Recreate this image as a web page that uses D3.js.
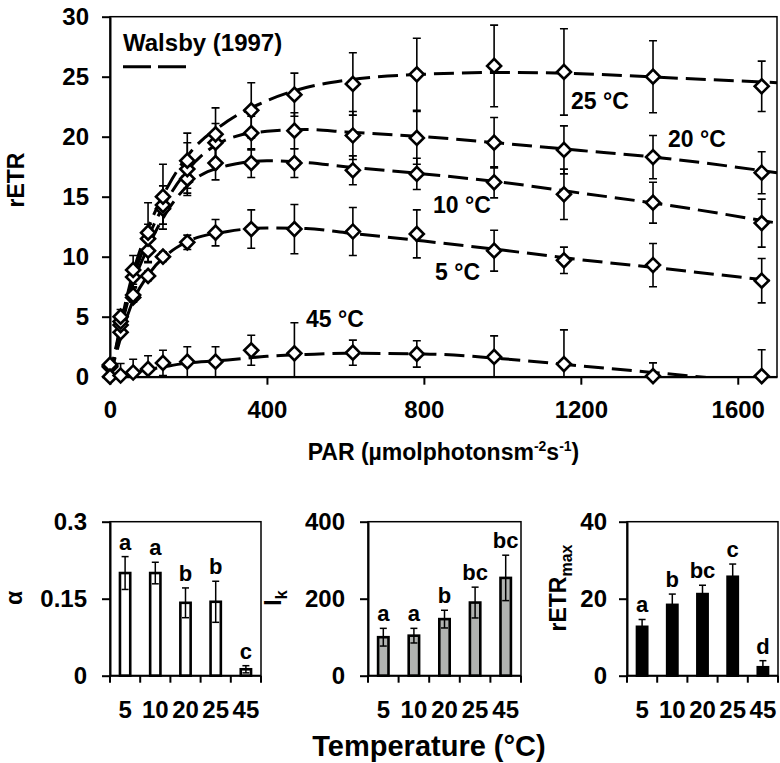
<!DOCTYPE html>
<html>
<head>
<meta charset="utf-8">
<script src="https://cdn.jsdelivr.net/npm/d3@7"></script>
<style>
  body { margin: 0; background: #fff; }
  text { font-family: "Liberation Sans", Arial, sans-serif; font-weight: bold; fill: #000; }
</style>
</head>
<body>
<div id="chart"></div>
<script>
// PAR levels of the light curves
var par = [0, 27, 59, 97, 135, 197, 269, 360, 470, 619, 782, 979, 1157, 1384, 1661];

// measured rETR (mean) and sd per temperature
var etr5  = [0.9, 3.7, 6.6, 8.4, 10.0, 11.2, 12.0, 12.3, 12.3, 12.1, 11.9, 10.5, 9.7, 9.3, 8.0];
var err5  = [0.2, 0.3, 0.4, 0.4, 0.4, 0.6, 1.1, 1.6, 2.05, 2.0, 2.0, 1.7, 1.1, 1.8, 1.85];
var etr10 = [0.8, 4.3, 6.8, 10.5, 14.0, 16.5, 17.8, 17.8, 17.8, 17.2, 16.9, 16.2, 15.2, 14.5, 12.8];
var err10 = [0.3, 0.4, 0.6, 0.9, 1.3, 1.2, 1.4, 1.2, 1.2, 1.2, 1.3, 1.3, 2.1, 1.7, 2.0];
var etr20 = [0.9, 4.6, 8.3, 11.5, 14.3, 17.3, 19.5, 20.3, 20.5, 20.1, 19.9, 19.5, 18.9, 18.3, 17.0];
var err20 = [0.3, 0.5, 0.8, 1.2, 1.6, 2.2, 1.6, 1.4, 1.5, 2.0, 2.2, 2.1, 2.0, 1.8, 1.75];
var etr25 = [1.0, 5.0, 8.9, 12.0, 15.0, 18.0, 20.2, 22.2, 23.5, 24.4, 25.2, 25.9, 25.4, 25.0, 24.2];
var err25 = [0.3, 0.6, 1.2, 2.5, 2.7, 2.3, 2.2, 2.3, 1.8, 2.6, 3.0, 3.4, 3.6, 3.0, 2.1];
var etr45 = [0.0, 0.1, 0.35, 0.65, 1.15, 1.25, 1.25, 2.2, 1.95, 2.0, 1.9, 1.65, 1.05, 0.05, 0.05];
var err45 = [0.3, 1.0, 1.1, 1.1, 1.05, 1.25, 1.25, 1.25, 2.55, 1.05, 1.1, 1.75, 2.85, 1.1, 2.2];

// Walsby (1997) fitted curves
var fitPar = [0, 25, 50, 100, 150, 200, 300, 400, 500, 600, 800, 1000, 1200, 1400, 1700];
var fit5  = [0, 3.0, 5.6, 8.6, 10.3, 11.3, 12.1, 12.4, 12.35, 12.0, 11.3, 10.55, 9.75, 9.05, 7.95];
var fit10 = [0, 3.6, 6.8, 11.0, 14.0, 16.0, 17.6, 18.0, 17.85, 17.5, 16.9, 16.2, 15.3, 14.4, 12.8];
var fit20 = [0, 3.8, 7.2, 11.8, 15.0, 17.3, 19.8, 20.45, 20.6, 20.4, 20.0, 19.45, 18.85, 18.25, 17.0];
var fit25 = [0, 4.0, 7.6, 12.6, 16.0, 18.5, 21.3, 23.0, 24.1, 24.7, 25.2, 25.35, 25.25, 24.95, 24.5];
var fit45 = [0, 0.15, 0.3, 0.6, 0.9, 1.15, 1.4, 1.7, 1.85, 1.95, 1.9, 1.5, 0.9, 0.3, -0.6];

var parTicks = [0, 400, 800, 1200, 1600];
var etrTicks = [0, 5, 10, 15, 20, 25, 30];

// bottom panels
var temps = ["5", "10", "20", "25", "45"];
var alphaVals = [0.20, 0.20, 0.142, 0.144, 0.0125];
var alphaErr  = [0.032, 0.021, 0.029, 0.040, 0.007];
var alphaLetters = ["a", "a", "b", "b", "c"];
var ikVals = [100, 104, 147, 190, 254];
var ikErr  = [23, 19, 23, 40, 59];
var ikLetters = ["a", "a", "b", "bc", "bc"];
var etrMaxVals = [12.7, 18.4, 21.2, 25.7, 2.2];
var etrMaxErr  = [1.9, 2.8, 2.3, 3.3, 1.7];
var etrMaxLetters = ["a", "b", "bc", "c", "d"];

var svg = d3.select("#chart")
  .append("svg")
  .attr("width", 780)
  .attr("height", 763);

// ===================== top chart =====================
var box = { left: 110, right: 777, top: 16.7, bottom: 376.7 };

var xScale = d3.scaleLinear().domain([0, 1700]).range([box.left, box.right]);
var yScale = d3.scaleLinear().domain([0, 30]).range([box.bottom, box.top]);

svg.append("clipPath").attr("id", "plotclip")
  .append("rect")
  .attr("x", box.left).attr("y", box.top)
  .attr("width", box.right - box.left).attr("height", box.bottom - box.top);

// frame
svg.append("rect")
  .attr("x", box.left).attr("y", box.top)
  .attr("width", box.right - box.left).attr("height", box.bottom - box.top)
  .attr("fill", "none").attr("stroke", "#000").attr("stroke-width", 1.5);

var xAxis = svg.append("g")
  .attr("transform", `translate(0, ${box.bottom})`)
  .call(d3.axisBottom(xScale).tickValues(parTicks).tickSize(8).tickSizeOuter(0).tickPadding(16)
    .tickFormat(d3.format("d")));

var yAxis = svg.append("g")
  .attr("transform", `translate(${box.left}, 0)`)
  .call(d3.axisLeft(yScale).tickValues(etrTicks).tickSize(8).tickSizeOuter(0).tickPadding(13));

[xAxis, yAxis].forEach(function(g) {
  g.selectAll("path, line").attr("stroke", "#000").attr("stroke-width", 2);
  g.selectAll("text").style("font-size", "24px").attr("fill", "#000");
});

var series = [
  { obs: etr5, err: err5, fit: fit5 },
  { obs: etr10, err: err10, fit: fit10 },
  { obs: etr20, err: err20, fit: fit20 },
  { obs: etr25, err: err25, fit: fit25 },
  { obs: etr45, err: err45, fit: fit45 }
];

var fitLine = d3.line()
  .x(function(d, i) { return xScale(fitPar[i]); })
  .y(function(d) { return yScale(d); })
  .curve(d3.curveMonotoneX);

var clipped = svg.append("g").attr("clip-path", "url(#plotclip)");

// dashed model curves
clipped.selectAll(".fit")
  .data(series)
  .enter()
  .append("path")
  .attr("class", "fit")
  .attr("d", function(s) { return fitLine(s.fit); })
  .attr("fill", "none")
  .attr("stroke", "#000")
  .attr("stroke-width", 3)
  .attr("stroke-dasharray", "20,8");

// error bars
var capW = 4;
series.forEach(function(s) {
  var g = clipped.append("g").attr("stroke", "#000").attr("stroke-width", 1.6);
  s.obs.forEach(function(v, i) {
    var cx = xScale(par[i]);
    var y1 = yScale(v + s.err[i]);
    var y0 = yScale(v - s.err[i]);
    g.append("line").attr("x1", cx).attr("x2", cx).attr("y1", y1).attr("y2", y0);
    g.append("line").attr("x1", cx - capW).attr("x2", cx + capW).attr("y1", y1).attr("y2", y1);
    g.append("line").attr("x1", cx - capW).attr("x2", cx + capW).attr("y1", y0).attr("y2", y0);
  });
});

// diamond markers
var diamond = d3.symbol().type(d3.symbolSquare).size(98);
series.forEach(function(s) {
  svg.append("g").selectAll("path")
    .data(s.obs)
    .enter()
    .append("path")
    .attr("d", diamond)
    .attr("transform", function(d, i) {
      return `translate(${xScale(par[i])}, ${yScale(d)}) rotate(45)`;
    })
    .attr("fill", "#fff")
    .attr("stroke", "#000")
    .attr("stroke-width", 2.6);
});

// curve labels
var curveLabels = [
  { t: "25 °C", x: 571, y: 109 },
  { t: "20 °C", x: 668, y: 147 },
  { t: "10 °C", x: 433, y: 213 },
  { t: "5 °C", x: 435, y: 280 },
  { t: "45 °C", x: 306, y: 327 }
];
svg.selectAll(".clab")
  .data(curveLabels)
  .enter()
  .append("text")
  .attr("class", "clab")
  .attr("x", function(d) { return d.x; })
  .attr("y", function(d) { return d.y; })
  .style("font-size", "23px")
  .text(function(d) { return d.t; });

// legend
svg.append("text")
  .attr("x", 123).attr("y", 51)
  .style("font-size", "24px")
  .text("Walsby (1997)");
svg.append("line")
  .attr("x1", 123).attr("x2", 186).attr("y1", 66.7).attr("y2", 66.7)
  .attr("stroke", "#000").attr("stroke-width", 3)
  .attr("stroke-dasharray", "28,7");

// axis titles
svg.append("text")
  .attr("transform", "translate(24, 180) rotate(-90)")
  .attr("text-anchor", "middle")
  .style("font-size", "23px")
  .text("rETR");

var parTitle = svg.append("text")
  .attr("x", (box.left + box.right) / 2)
  .attr("y", 460)
  .attr("text-anchor", "middle")
  .style("font-size", "23px");
parTitle.append("tspan").text("PAR (µmolphotonsm");
parTitle.append("tspan").attr("dy", -9).style("font-size", "14px").text("-2");
parTitle.append("tspan").attr("dy", 9).text("s");
parTitle.append("tspan").attr("dy", -9).style("font-size", "14px").text("-1");
parTitle.append("tspan").attr("dy", 9).text(")");

// ===================== bottom panels =====================
var panelTop = 521.7;
var panelBottom = 675.7;

function drawPanel(p) {
  var band = d3.scaleBand().domain(temps).range([p.x0, p.x1])
    .paddingInner(0.66).paddingOuter(0.33);
  var yS = d3.scaleLinear().domain([0, p.max]).range([panelBottom, panelTop]);
  var step = band.step();

  // frame
  svg.append("rect")
    .attr("x", p.x0).attr("y", panelTop)
    .attr("width", p.x1 - p.x0).attr("height", panelBottom - panelTop)
    .attr("fill", "none").attr("stroke", "#000").attr("stroke-width", 1.5);

  // bars
  svg.append("g").selectAll("rect")
    .data(p.vals)
    .enter()
    .append("rect")
    .attr("x", function(d, i) { return band(temps[i]); })
    .attr("y", function(d) { return yS(d); })
    .attr("width", band.bandwidth())
    .attr("height", function(d) { return panelBottom - yS(d); })
    .attr("fill", p.fill)
    .attr("stroke", "#000")
    .attr("stroke-width", 2.6);

  // error bars
  var eg = svg.append("g").attr("stroke", "#000").attr("stroke-width", 1.5);
  p.vals.forEach(function(v, i) {
    var cx = band(temps[i]) + band.bandwidth() / 2;
    var y1 = yS(v + p.err[i]);
    var y0 = yS(Math.max(v - p.err[i], 0));
    eg.append("line").attr("x1", cx).attr("x2", cx).attr("y1", y1).attr("y2", y0);
    eg.append("line").attr("x1", cx - 3.5).attr("x2", cx + 3.5).attr("y1", y1).attr("y2", y1);
    eg.append("line").attr("x1", cx - 3.5).attr("x2", cx + 3.5).attr("y1", y0).attr("y2", y0);
  });

  // significance letters
  svg.append("g").selectAll("text")
    .data(p.letters)
    .enter()
    .append("text")
    .attr("x", function(d, i) { return band(temps[i]) + band.bandwidth() / 2; })
    .attr("y", function(d, i) { return yS(p.vals[i] + p.err[i]) - 7; })
    .attr("text-anchor", "middle")
    .style("font-size", "22px")
    .text(function(d) { return d; });

  // axes
  var ya = svg.append("g")
    .attr("transform", `translate(${p.x0}, 0)`)
    .call(d3.axisLeft(yS).tickValues(p.ticks).tickSize(8).tickSizeOuter(0).tickPadding(p.pad)
      .tickFormat(function(d) { return String(d); }));
  var xa = svg.append("g")
    .attr("transform", `translate(0, ${panelBottom})`)
    .call(d3.axisBottom(band).tickSize(0).tickPadding(25));
  xa.select(".domain").remove();
  [ya, xa].forEach(function(g) {
    g.selectAll("path, line").attr("stroke", "#000").attr("stroke-width", 2);
    g.selectAll("text").style("font-size", "24px").attr("fill", "#000");
  });

  // base line with ticks between bars
  svg.append("line")
    .attr("x1", p.x0).attr("x2", p.x1).attr("y1", panelBottom).attr("y2", panelBottom)
    .attr("stroke", "#000").attr("stroke-width", 2);
  svg.append("g").selectAll("line")
    .data(d3.range(temps.length + 1))
    .enter()
    .append("line")
    .attr("x1", function(i) { return p.x0 + i * step; })
    .attr("x2", function(i) { return p.x0 + i * step; })
    .attr("y1", panelBottom).attr("y2", panelBottom + 7)
    .attr("stroke", "#000").attr("stroke-width", 2);

  // y title
  var yt = svg.append("text")
    .attr("transform", `translate(${p.tx}, ${p.ty}) rotate(-90)`)
    .attr("text-anchor", "middle")
    .style("font-size", "23px");
  yt.append("tspan").text(p.title);
  if (p.sub) {
    yt.append("tspan").attr("dy", 6).style("font-size", "16px").text(p.sub);
  }
}

drawPanel({ x0: 110, x1: 261, max: 0.3, ticks: [0, 0.15, 0.3], pad: 15,
  vals: alphaVals, err: alphaErr, letters: alphaLetters, fill: "#fff",
  title: "α", tx: 22, ty: 598 });
drawPanel({ x0: 368, x1: 521, max: 400, ticks: [0, 200, 400], pad: 15,
  vals: ikVals, err: ikErr, letters: ikLetters, fill: "#b1b3b1",
  title: "I", sub: "k", tx: 281, ty: 598 });
drawPanel({ x0: 627, x1: 778, max: 40, ticks: [0, 20, 40], pad: 12,
  vals: etrMaxVals, err: etrMaxErr, letters: etrMaxLetters, fill: "#000",
  title: "rETR", sub: "max", tx: 566, ty: 588 });

svg.append("text")
  .attr("x", 429)
  .attr("y", 756)
  .attr("text-anchor", "middle")
  .style("font-size", "29px")
  .text("Temperature (°C)");
</script>
</body>
</html>
